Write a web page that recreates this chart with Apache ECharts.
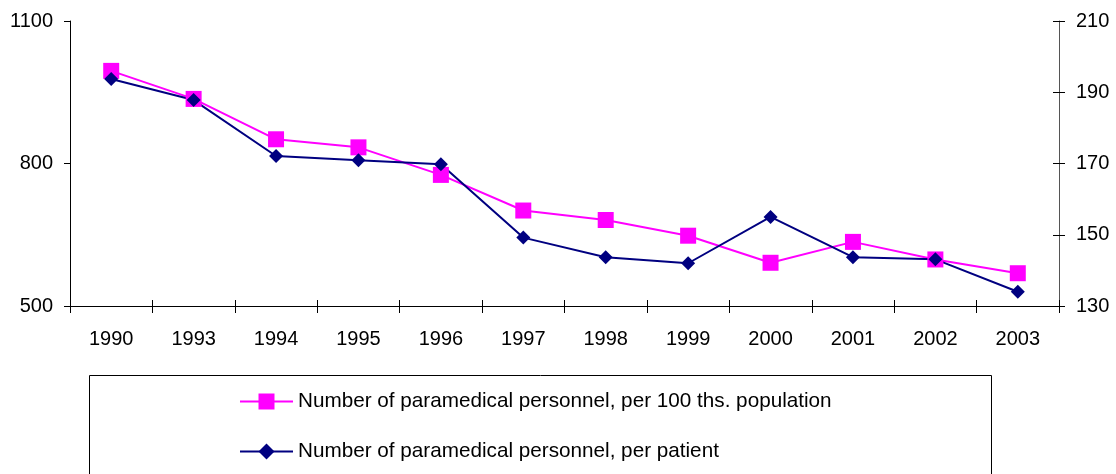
<!DOCTYPE html>
<html>
<head>
<meta charset="utf-8">
<script src="https://cdn.jsdelivr.net/npm/echarts@6/dist/echarts.min.js"></script>
<style>
  html, body { margin: 0; padding: 0; background: #fff; }
  #chart { width: 1116px; height: 474px; }
</style>
</head>
<body>
<div id="chart"></div>
<script>
// data
var years = ["1990", "1993", "1994", "1995", "1996", "1997", "1998", "1999", "2000", "2001", "2002", "2003"];
var perPopulation = [995, 936, 851, 834, 776, 701, 681, 648, 591, 635, 598, 569];
var perPatient = [193.7, 187.8, 172.1, 170.9, 169.8, 149.2, 143.7, 142, 155, 143.7, 143.1, 134];
var namePopulation = "Number of paramedical personnel, per 100 ths. population";
var namePatient = "Number of paramedical personnel, per patient";

var font = "'Liberation Sans', Arial, sans-serif";
var axisColor = "#000";

function plain(v) { return String(v); }

var chart = echarts.init(document.getElementById("chart"));
var option = {
  animation: false,
  backgroundColor: "#fff",
  textStyle: { fontFamily: font },
  grid: { left: 70, right: 57, top: 21, bottom: 168, containLabel: false },
  graphic: [
    {
      type: "rect",
      left: 87,
      top: 373,
      shape: { width: 902, height: 120 },
      style: { fill: "none", stroke: "#000", lineWidth: 1 }
    }
  ],
  legend: {
    orient: "vertical",
    left: 234,
    top: 386,
    itemWidth: 53,
    itemHeight: 20,
    itemGap: 29,
    textStyle: { fontFamily: font, fontSize: 20.7, color: "#000" },
    data: [namePopulation, namePatient]
  },
  xAxis: [
    {
      type: "category",
      data: years,
      boundaryGap: true,
      axisLine: { lineStyle: { color: axisColor, width: 1 } },
      axisTick: { show: true, length: 7, lineStyle: { color: axisColor } },
      axisLabel: { fontFamily: font, fontSize: 20, color: "#000", margin: 23 }
    },
    {
      // inner half of the crossing ticks
      type: "category",
      data: years,
      position: "bottom",
      boundaryGap: true,
      axisLine: { show: false },
      axisTick: { show: true, inside: true, length: 6, lineStyle: { color: axisColor } },
      axisLabel: { show: false }
    }
  ],
  yAxis: [
    {
      type: "value",
      min: 500,
      max: 1100,
      interval: 300,
      position: "left",
      splitLine: { show: false },
      axisLine: { show: true, lineStyle: { color: axisColor } },
      axisTick: { show: true, length: 6, lineStyle: { color: axisColor } },
      axisLabel: { fontFamily: font, fontSize: 20, color: "#000", margin: 17, formatter: plain }
    },
    {
      type: "value",
      min: 130,
      max: 210,
      interval: 20,
      position: "right",
      splitLine: { show: false },
      axisLine: { show: true, lineStyle: { color: "#555" } },
      axisTick: { show: true, length: 6, lineStyle: { color: axisColor } },
      axisLabel: { fontFamily: font, fontSize: 20, color: "#000", margin: 17, formatter: plain }
    },
    {
      // inner half of the crossing ticks on the right
      type: "value",
      min: 130,
      max: 210,
      interval: 20,
      position: "right",
      splitLine: { show: false },
      axisLine: { show: false },
      axisTick: { show: true, inside: true, length: 6, lineStyle: { color: axisColor } },
      axisLabel: { show: false }
    }
  ],
  series: [
    {
      name: namePopulation,
      type: "line",
      yAxisIndex: 0,
      data: perPopulation,
      symbol: "rect",
      symbolSize: 16,
      lineStyle: { color: "#ff00ff", width: 2 },
      itemStyle: { color: "#ff00ff" }
    },
    {
      name: namePatient,
      type: "line",
      yAxisIndex: 1,
      data: perPatient,
      symbol: "diamond",
      symbolSize: 14,
      lineStyle: { color: "#000080", width: 2 },
      itemStyle: { color: "#000080" }
    }
  ]
};
chart.setOption(option);
</script>
</body>
</html>
